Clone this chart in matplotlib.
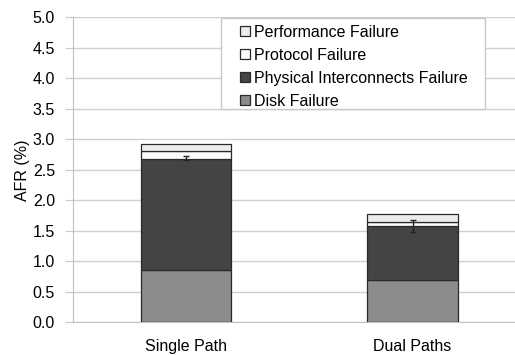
import matplotlib.pyplot as plt
from matplotlib.patches import Rectangle
import numpy as np

plt.rcParams['font.family'] = ['Liberation Sans', 'DejaVu Sans']

# Data
categories = ['Single Path', 'Dual Paths']
disk = [0.86, 0.69]
physical = [1.81, 0.89]
protocol = [0.14, 0.06]
performance = [0.11, 0.14]
err_center = [2.70, 1.58]
err_size = [0.035, 0.10]

series = [
    ('Disk Failure', disk, '#8c8c8c'),
    ('Physical Interconnects Failure', physical, '#444444'),
    ('Protocol Failure', protocol, '#fbfbfb'),
    ('Performance Failure', performance, '#ececec'),
]

fs = 11.5

fig = plt.figure(figsize=(5.15, 3.55), dpi=100)
ax = fig.add_axes([73 / 515, 0.092, 442 / 515, 0.859])

x = np.arange(len(categories))
bottom = np.zeros(len(categories))
handles = []
for label, vals, color in series:
    b = ax.bar(x, vals, width=0.40, bottom=bottom, color=color,
               edgecolor='#2a2a2a', linewidth=0.9, label=label, zorder=3)
    handles.append(b)
    bottom += np.array(vals)

ax.errorbar(x, err_center, yerr=err_size, fmt='none', ecolor='#222222',
            elinewidth=1.0, capsize=2.5, capthick=1.0, zorder=4)

ax.set_xlim(-0.499, 1.452)
ax.set_ylim(0, 5.0)
ax.set_yticks(np.arange(0, 5.01, 0.5))
ax.set_yticklabels([f'{v:.1f}' for v in np.arange(0, 5.01, 0.5)], fontsize=fs)
ax.set_xticks(x)
ax.set_xticklabels(categories, fontsize=fs)
ax.tick_params(axis='x', length=0, pad=12)
ax.tick_params(axis='y', length=6, color='#c8c8c8', pad=7)
ax.set_ylabel('AFR (%)', fontsize=fs, labelpad=2)

ax.grid(axis='y', color='#d0d0d0', linewidth=1.0, zorder=0)
for side in ['top', 'right']:
    ax.spines[side].set_visible(False)
ax.spines['left'].set_color('#c0c0c0')
ax.spines['bottom'].set_color('#c0c0c0')

# legend frame drawn separately so the inner padding can differ per side
frame = Rectangle((0.4286, 0.692), 0.5137, 0.2563, transform=fig.transFigure,
                  facecolor='white', edgecolor='#c8c8c8', linewidth=1.0, zorder=5)
fig.patches.append(frame)

leg = fig.legend(handles[::-1], [s[0] for s in series][::-1],
                 loc='upper left', bbox_to_anchor=(240 / 515, 0.9295),
                 borderaxespad=0, borderpad=0, fontsize=fs, frameon=False,
                 handlelength=0.6, handleheight=0.6, handletextpad=0.3,
                 labelspacing=0.5)
leg.set_zorder(6)

plt.savefig('out.png', dpi=100)
plt.close()
